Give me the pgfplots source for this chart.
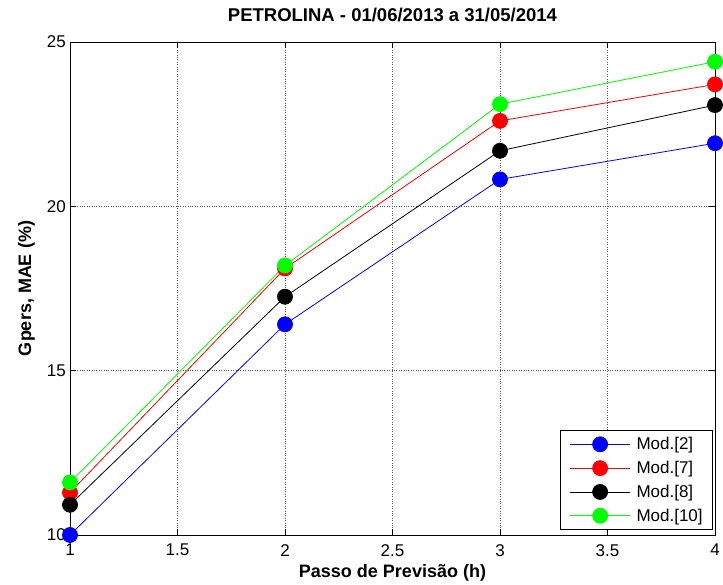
\documentclass[border=0pt]{standalone}
\usepackage{fontspec}
\setmainfont{Liberation Sans}
\usepackage{pgfplots}
\pgfplotsset{compat=1.18}
\definecolor{mblue}{RGB}{0,0,255}
\definecolor{mred}{RGB}{255,0,0}
\definecolor{mgreen}{RGB}{0,255,0}
\begin{document}
\begin{tikzpicture}[x=1pt,y=1pt]
\useasboundingbox (-70,-50) rectangle (653,535);
\begin{axis}[at={(0,0)}, anchor=south west, scale only axis,
  width=645pt, height=493pt,
  xmin=1, xmax=4, ymin=10, ymax=25,
  xtick={1,1.5,2,2.5,3,3.5,4}, ytick={10,15,20,25},
  grid=major, major grid style={dotted, line width=0.7pt, black!65},
  tick align=inside, major tick length=6pt,
  tick style={black, line width=0.6pt},
  axis line style={line width=0.9pt},
  /pgf/number format/assume math mode=true,
  ticklabel style={font=\fontsize{17}{17}\selectfont},
  xticklabel style={anchor=north, inner sep=0pt, yshift=-9pt},
  yticklabel style={anchor=east, inner sep=0pt, xshift=-4pt},
  title={PETROLINA - 01/06/2013 a 31/05/2014},
  title style={at={(axis description cs:0.5,1.0284)}, anchor=base, inner sep=0pt,
    font=\fontsize{18.5}{18.5}\selectfont\bfseries},
  xlabel={Passo de Previsão (h)},
  xlabel style={at={(axis description cs:0.5,-0.0872)}, anchor=base, inner sep=0pt,
    font=\fontsize{18}{18}\selectfont\bfseries},
  ylabel={Gpers, MAE (\%)},
  ylabel style={at={(axis description cs:-0.0543,0.5)}, anchor=south, inner sep=0pt, rotate=0,
    font=\fontsize{18}{18}\selectfont\bfseries},
  clip=false,
  legend cell align=left,
  legend style={at={(0.997,0.01)}, anchor=south east, draw=black, line width=0.8pt,
    font=\fontsize{17}{17}\selectfont, row sep=8pt, inner xsep=9pt, inner ysep=6pt,
    nodes={inner sep=1pt},
    /tikz/every odd column/.append style={column sep=5pt}},
  legend image code/.code={\draw[mark repeat=2, mark phase=2, #1] plot coordinates {(0pt,0pt) (30pt,0pt) (60pt,0pt)};},
  every axis plot/.append style={line width=0.8pt, mark=*, mark size=7.5pt},
]
\addplot[color=mblue, mark options={fill=mblue, draw=mblue}] coordinates {(1,10.0) (2,16.41) (3,20.82) (4,21.92)};
\addlegendentry{Mod.[2]}
\addplot[color=mred, mark options={fill=mred, draw=mred}] coordinates {(1,11.29) (2,18.11) (3,22.60) (4,23.71)};
\addlegendentry{Mod.[7]}
\addplot[color=black, mark options={fill=black, draw=black}] coordinates {(1,10.92) (2,17.25) (3,21.69) (4,23.08)};
\addlegendentry{Mod.[8]}
\addplot[color=mgreen, mark options={fill=mgreen, draw=mgreen}] coordinates {(1,11.6) (2,18.20) (3,23.11) (4,24.40)};
\addlegendentry{Mod.[10]}
\end{axis}
\end{tikzpicture}
\end{document}
